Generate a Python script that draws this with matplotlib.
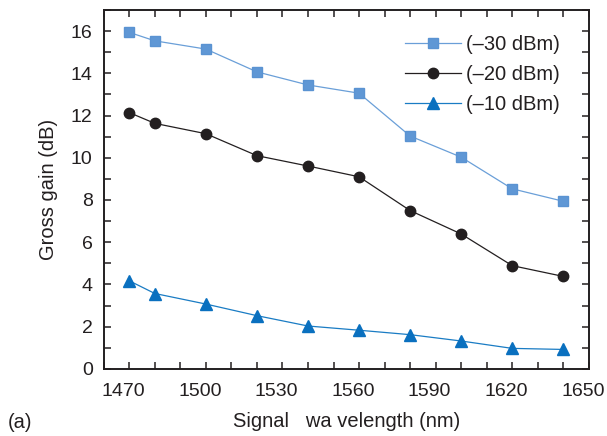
import numpy as np
import matplotlib.pyplot as plt
from matplotlib.ticker import MultipleLocator
from matplotlib.transforms import ScaledTranslation

plt.rcParams['font.family'] = ['Liberation Sans', 'DejaVu Sans']

# Dados
comprimento_onda = [1470, 1480, 1500, 1520, 1540, 1560, 1580, 1600, 1620, 1640]
ganho_30 = [15.94, 15.54, 15.15, 14.07, 13.45, 13.06, 11.03, 10.03, 8.53, 7.94]
ganho_20 = [12.14, 11.63, 11.14, 10.10, 9.61, 9.10, 7.50, 6.39, 4.89, 4.38]
ganho_10 = [4.17, 3.57, 3.07, 2.52, 2.03, 1.83, 1.62, 1.32, 0.97, 0.92]
ticks_x = [1470, 1500, 1530, 1560, 1590, 1620, 1650]
rotulos = ['(\u201330 dBm)', '(\u201320 dBm)', '(\u201310 dBm)']

fig = plt.figure(figsize=(6.07, 4.36), dpi=100)
ax = fig.add_axes([0.171, 0.154, 0.799, 0.823])

ax.plot(comprimento_onda, ganho_30, color='#6a9fd8', lw=0.9, marker='s', ms=6.8,
        mec='#5a93d2', mfc='#5f97d5', label=rotulos[0])
ax.plot(comprimento_onda, ganho_20, color='#231f20', lw=0.9, marker='o', ms=7.5,
        mfc='#231f20', mec='#231f20', label=rotulos[1])
ax.plot(comprimento_onda, ganho_10, color='#1a7cc4', lw=0.9, marker='^', ms=8.5,
        mfc='#0a70bf', mec='#0a70bf', label=rotulos[2])

ax.set_xlim(1460, 1650)
ax.set_ylim(0, 17)
ax.set_xticks(ticks_x)
ax.xaxis.set_minor_locator(MultipleLocator(10))
ax.yaxis.set_major_locator(MultipleLocator(2))
ax.yaxis.set_minor_locator(MultipleLocator(1))
ax.tick_params(which='both', direction='in', top=True, right=True, length=5,
               width=1.1, color='#231f20', labelsize=14, labelcolor='#231f20')
ax.tick_params(axis='x', pad=10)
ax.tick_params(axis='y', pad=8)
for s in ax.spines.values():
    s.set_linewidth(1.4)
    s.set_color('#231f20')

# rótulos do eixo x levemente deslocados para a esquerda, como no original
desloc = ScaledTranslation(-6 / 100, 0, fig.dpi_scale_trans)
for lbl in ax.get_xticklabels():
    lbl.set_transform(lbl.get_transform() + desloc)

ax.set_ylabel('Gross gain (dB)', fontsize=14.5, color='#231f20', labelpad=9)
ax.set_xlabel('Signal   wa velength (nm)', fontsize=14.5, color='#231f20', labelpad=9)
fig.text(0.012, 0.018, '(a)', fontsize=14.5, color='#231f20')

leg = ax.legend(loc='upper right', frameon=False, fontsize=14.5, handlelength=2.8,
                handletextpad=0.25, labelspacing=0.55, borderaxespad=0.3,
                bbox_to_anchor=(0.97, 0.97))
for t in leg.get_texts():
    t.set_color('#231f20')

fig.savefig('out.png', dpi=100)
